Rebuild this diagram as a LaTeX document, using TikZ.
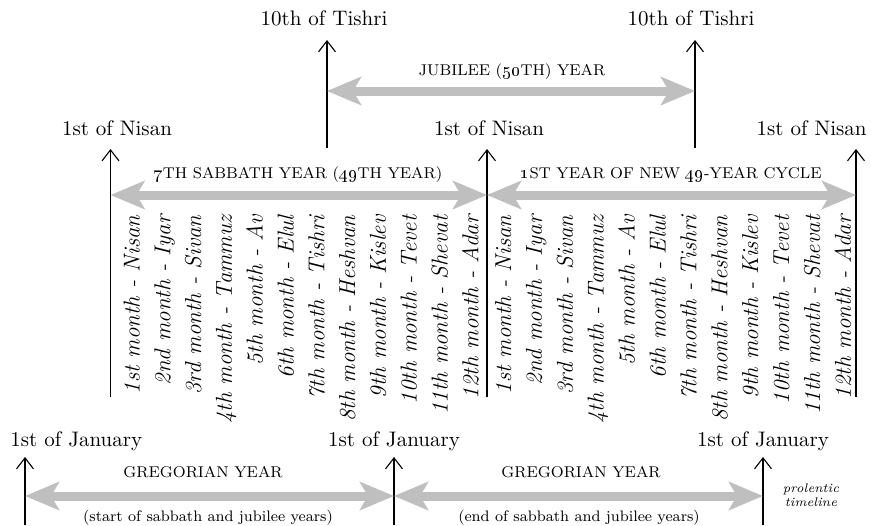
\documentclass[tikz,border=0pt]{standalone}
\usetikzlibrary{arrows.meta,positioning}
\tikzset{
	tick/.style={-{Straight Barb[length=5.5pt,width=8.5pt]}, line width=0.55pt},
	span/.style={{Stealth[length=17pt,width=14pt,inset=4pt]}-{Stealth[length=17pt,width=14pt,inset=4pt]},
		line width=4.5pt, draw=gray!50},
	datelab/.style={font=\fontsize{10.5}{12.5}\selectfont, inner sep=0pt, anchor=base},
	periodlab/.style={font=\fontsize{7.8}{10}\selectfont, inner sep=0pt, anchor=base},
	notelab/.style={font=\fontsize{7.6}{10}\selectfont, inner sep=0pt, anchor=base},
	monthlab/.style={font=\fontsize{11.5}{13}\selectfont\itshape, inner sep=0pt, rotate=90, anchor=base east},
	sidelab/.style={font=\fontsize{6.3}{7}\selectfont\itshape, inner sep=0pt, align=center}
}
\newcommand{\osn}[1]{{\fontsize{9}{11}\selectfont\oldstylenums{#1}}}

\begin{document}
\begin{tikzpicture}[x=0.5pt, y=-0.5pt]
	\useasboundingbox (0,0) rectangle (871,525);

	% tishri marks and the jubilee year
	\node[datelab] (tish1) at (324,25) {10th of Tishri};
	\node[datelab] (tish2) at (691,25) {10th of Tishri};
	\coordinate (tish1tip) at (327,40); \coordinate (tish1end) at (327,148);
	\coordinate (tish2tip) at (695,40); \coordinate (tish2end) at (695,148);
	\draw[tick] (tish1end) -- (tish1tip);
	\draw[tick] (tish2end) -- (tish2tip);
	\node[periodlab] (jub) at (512,75) {JUBILEE (\osn{50}TH) YEAR};
	\draw[span] (tish1tip |- 0,91) -- (tish2tip |- 0,91);

	% nisan marks and the two years
	\node[datelab] (nis1) at (117,135) {1st of Nisan};
	\node[datelab] (nis2) at (489,135) {1st of Nisan};
	\node[datelab, anchor=base east] (nis3) at (867,135) {1st of Nisan};
	\coordinate (nis1tip) at (110.5,149); \coordinate (nis1end) at (110.5,397);
	\coordinate (nis2tip) at (487,149); \coordinate (nis2end) at (487,397);
	\coordinate (nis3tip) at (856,149); \coordinate (nis3end) at (856,397);
	\draw[tick] (nis1end) -- (nis1tip);
	\draw[tick] (nis2end) -- (nis2tip);
	\draw[tick] (nis3end) -- (nis3tip);
	\node[periodlab] (sabb) at (298,178) {\osn{7}TH SABBATH YEAR (\osn{49}TH YEAR)};
	\node[periodlab] (newcyc) at (671,178) {\osn{1}ST YEAR OF NEW \osn{49}-YEAR CYCLE};
	\draw[span] (nis1tip |- 0,195) -- (nis2tip |- 0,195);
	\draw[span] (nis2tip |- 0,195) -- (nis3tip |- 0,195);

	% months
	\foreach \m [count=\i] in {1st month - Nisan, 2nd month - Iyar, 3rd month - Sivan,
		4th month - Tammuz, 5th month - Av, 6th month - Elul, 7th month - Tishri,
		8th month - Heshvan, 9th month - Kislev, 10th month - Tevet,
		11th month - Shevat, 12th month - Adar}{
		\node[monthlab] (old\i) at ({139.5+30.8*(\i-1)},215) {\m};
		\node[monthlab] (new\i) at ({511+30.9*(\i-1)},215) {\m};
	}

	% gregorian years
	\node[datelab, anchor=base west] (jan1) at (10,446) {1st of January};
	\node[datelab] (jan2) at (394,446) {1st of January};
	\node[datelab] (jan3) at (763,446) {1st of January};
	\coordinate (jan1tip) at (25,457); \coordinate (jan1end) at (25,525);
	\coordinate (jan2tip) at (394,457); \coordinate (jan2end) at (394,525);
	\coordinate (jan3tip) at (763,457); \coordinate (jan3end) at (763,525);
	\draw[tick] (jan1end) -- (jan1tip);
	\draw[tick] (jan2end) -- (jan2tip);
	\draw[tick] (jan3end) -- (jan3tip);
	\node[periodlab] (greg1) at (203,477) {GREGORIAN YEAR};
	\node[periodlab] (greg2) at (581,477) {GREGORIAN YEAR};
	\draw[span] (jan1tip |- 0,496) -- (jan2tip |- 0,496);
	\draw[span] (jan2tip |- 0,496) -- (jan3tip |- 0,496);
	\node[notelab] (start) at (208,521) {(start of sabbath and jubilee years)};
	\node[notelab] (end) at (579,521) {(end of sabbath and jubilee years)};
	\node[sidelab] (prol) at (811,495) {prolentic\\timeline};
\end{tikzpicture}
\end{document}
